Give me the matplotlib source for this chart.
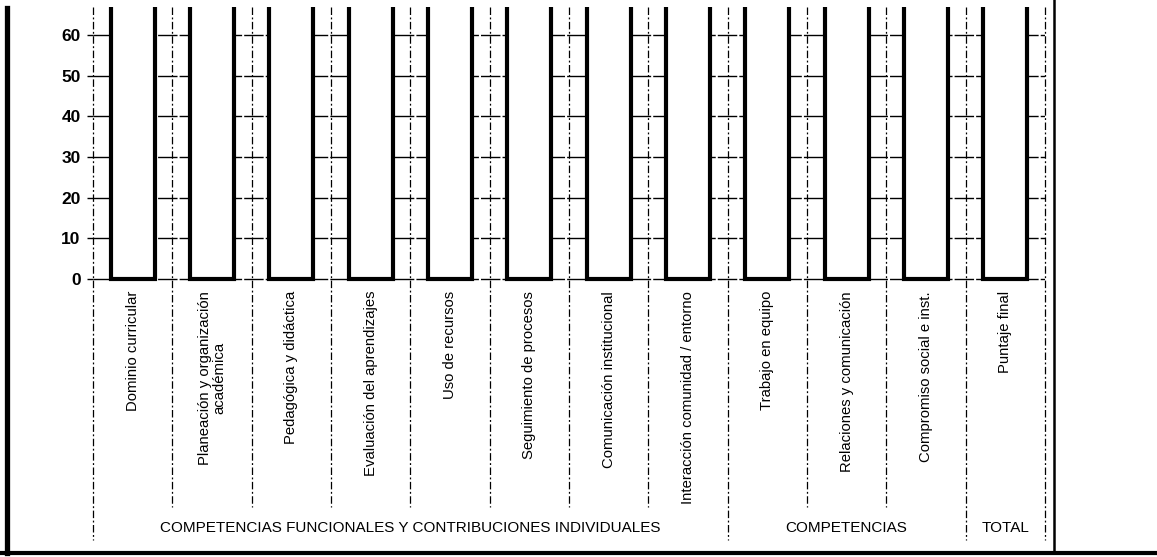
from __future__ import annotations

import matplotlib

matplotlib.use("Agg")
import matplotlib.pyplot as plt
from matplotlib.lines import Line2D
from matplotlib.transforms import blended_transform_factory

categorias = [
    "Dominio curricular",
    "Planeación y organización\nacadémica",
    "Pedagógica y didáctica",
    "Evaluación del aprendizajes",
    "Uso de recursos",
    "Seguimiento de procesos",
    "Comunicación institucional",
    "Interacción comunidad / entorno",
    "Trabajo en equipo",
    "Relaciones y comunicación",
    "Compromiso social e inst.",
    "Puntaje final",
]
# the bars run past the top of the scale in the scan
valores = [100, 100, 100, 100, 100, 100, 100, 100, 100, 100, 100, 100]
grupos = [
    "COMPETENCIAS FUNCIONALES Y CONTRIBUCIONES INDIVIDUALES",
    "COMPETENCIAS",
    "TOTAL",
]
grupo_tamanos = [8, 3, 1]
y_ticks = [0, 10, 20, 30, 40, 50, 60]

W, H = 1157, 557


def fx(px: float) -> float:
    return px / W


def fy(py: float) -> float:
    return 1 - py / H


def main() -> None:
    plt.rcParams["font.family"] = ["Liberation Sans", "DejaVu Sans"]
    fig = plt.figure(figsize=(W / 100, H / 100), dpi=100)
    fig.patch.set_facecolor("white")

    top_px, bot_px = 7, 283
    ax = fig.add_axes([fx(93), fy(bot_px), fx(1045) - fx(93), fy(top_px) - fy(bot_px)])
    ax_h = bot_px - top_px

    n = len(categorias)
    x = list(range(n))
    ax.set_xlim(-0.5, n - 0.5)
    ax.set_ylim(-0.98, 66.9)

    for v in y_ticks:
        ax.axhline(v, color="black", linewidth=1.0, linestyle=(0, (14, 1.5)), zorder=1)

    ax.bar(x, valores, width=0.555, color="white", edgecolor="black", linewidth=3, zorder=2)

    for s in ax.spines.values():
        s.set_visible(False)
    ax.set_xticks([])
    ax.set_yticks(y_ticks)
    ax.set_yticklabels([str(v) for v in y_ticks], fontsize=12.5, fontweight="bold")
    ax.tick_params(axis="y", length=4, width=1, pad=5, colors="black")

    trans = blended_transform_factory(ax.transData, ax.transAxes)
    frontera_grupo = {0}
    acum = 0
    for t in grupo_tamanos:
        acum += t
        frontera_grupo.add(acum)
    y_in = (bot_px - 507) / ax_h
    y_gr = (bot_px - 540) / ax_h
    for i in range(n + 1):
        y0 = y_gr if i in frontera_grupo else y_in
        ax.plot([i - 0.5, i - 0.5], [1.0, y0], transform=trans, color="black",
                linewidth=0.9, linestyle=(0, (6, 2, 1.5, 2)), clip_on=False, zorder=1)

    y_lab = (bot_px - 291) / ax_h
    for xi, lab in zip(x, categorias):
        ax.text(xi, y_lab, lab, transform=trans, rotation=90, ha="center", va="top",
                multialignment="center", fontsize=10.7, linespacing=1.0)

    y_g = (bot_px - 528) / ax_h
    inicio = 0
    for g, t in zip(grupos, grupo_tamanos):
        centro = inicio - 0.5 + t / 2
        ax.text(centro, y_g, g, transform=trans, ha="center", va="center", fontsize=11)
        inicio += t

    # outer frame of the scanned page
    fig.add_artist(Line2D([fx(7), fx(7)], [fy(8), fy(553)], color="black", linewidth=3.8))
    fig.add_artist(Line2D([0, 1], [fy(553), fy(553)], color="black", linewidth=3.0))
    fig.add_artist(Line2D([fx(1054), fx(1054)], [1, fy(553)], color="black", linewidth=1.8))

    fig.savefig("out.png", dpi=100, facecolor="white")
    plt.close(fig)


if __name__ == "__main__":
    main()
